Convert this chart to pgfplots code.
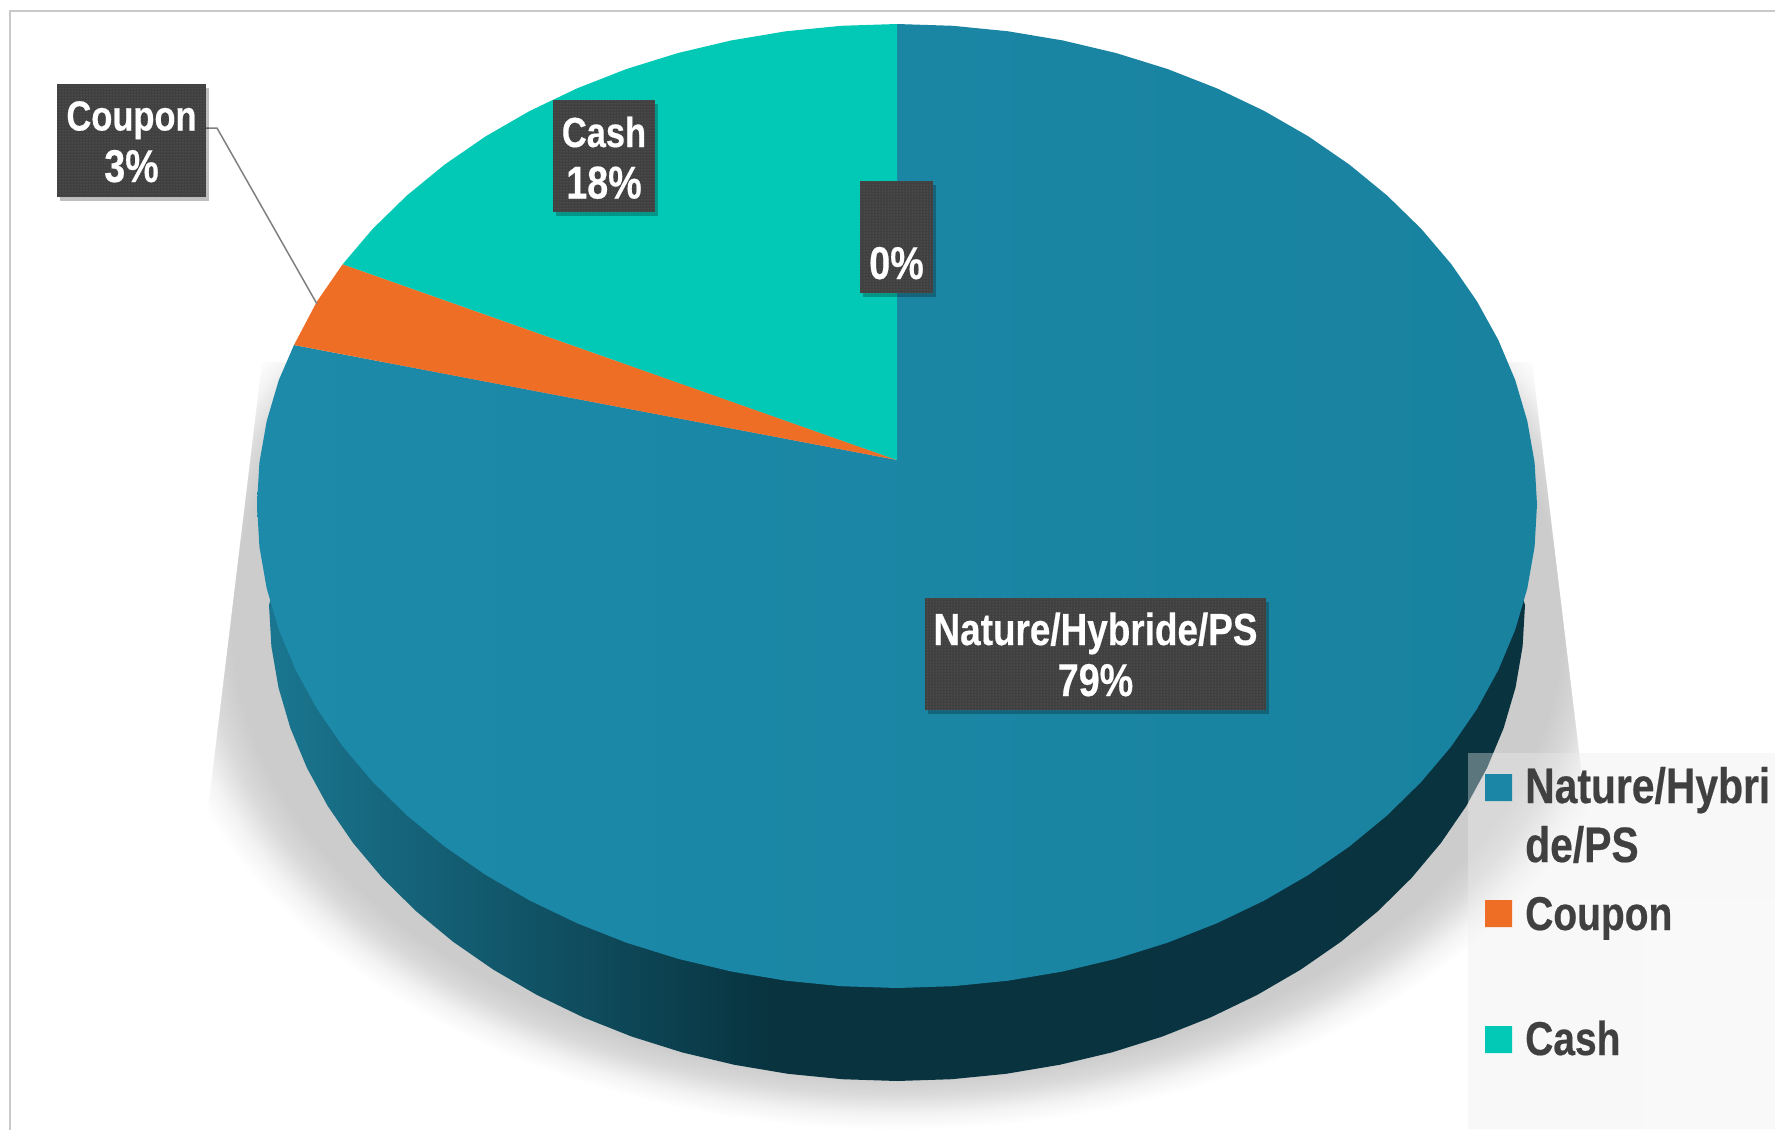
\documentclass[border=0pt]{standalone}
\usepackage{fontspec}
\setmainfont{Liberation Sans}[FakeStretch=0.82,BoldFeatures={FakeBold=0.4}]
\usepackage{pgfplots}
\pgfplotsset{compat=1.18}
\usetikzlibrary{patterns,shadows}
\definecolor{pieblue}{HTML}{1B86A5}
\definecolor{bluel}{HTML}{1D8AAA}
\definecolor{bluer}{HTML}{18829F}
\definecolor{pieorange}{HTML}{EE6E26}
\definecolor{pieteal}{HTML}{02C9B5}
\definecolor{boxgray}{HTML}{404040}
\definecolor{sideA}{HTML}{1A7690}
\definecolor{sideB}{HTML}{08333F}
\definecolor{sideC}{HTML}{0A3340}
\definecolor{shA}{HTML}{CCCCCC}
\definecolor{shB}{HTML}{D9D9D9}
\definecolor{shC}{HTML}{F3F3F3}
\definecolor{framec}{HTML}{C9C9C9}
\definecolor{panelc}{HTML}{EEEEEE}
\pgfdeclarehorizontalshading{sideshade}{100bp}{color(0bp)=(sideA); color(25bp)=(sideA); color(45bp)=(sideB); color(75bp)=(sideC); color(100bp)=(sideC)}
\pgfdeclareradialshading{softshadow}{\pgfpoint{0bp}{0bp}}{color(0bp)=(shA); color(22.3bp)=(shA); color(23.2bp)=(shB); color(24.2bp)=(shC); color(25bp)=(white); color(50bp)=(white)}
\tikzset{
  lab/.style={fill=boxgray,text=white,inner sep=0pt,align=center,
    drop shadow={shadow xshift=3pt,shadow yshift=-4pt,opacity=.25,fill=black},
    postaction={pattern=dots,pattern color=gray!75!boxgray}},
  labtxt/.style={text=white,inner sep=0pt,anchor=base,font=\fontsize{42}{42}\selectfont\bfseries},
  pcttxt/.style={text=white,inner sep=0pt,anchor=base,font=\fontsize{46}{46}\selectfont\bfseries},
  legtxt/.style={text=boxgray,inner sep=0pt,anchor=base west,font=\fontsize{47.5}{48}\selectfont\bfseries},
  legtxtb/.style={text=boxgray,inner sep=0pt,anchor=base west,font=\fontsize{49.8}{50}\selectfont\bfseries},
}
\begin{document}
\begin{tikzpicture}
\begin{axis}[
  scale only axis,width=1775pt,height=1130pt,
  xmin=0,xmax=1775,ymin=0,ymax=1130,y dir=reverse,
  hide axis,no markers,
]
% shadow
\addplot[shading=softshadow,draw=none] coordinates {(152,115) (1642,115) (1642,1130) (152,1130) (152,115)};
% mask that gives the shadow its straight sides
\addplot[fill=white,draw=none] coordinates {(0,0) (1775,0) (1775,900) (1597,900) (1532,362) (262,362) (197,900) (0,900) (0,0)};
% frame
\addplot[color=framec,line width=2pt] coordinates {(9.5,1130) (9.5,10.7) (1775,10.7)};
% side wall
\addplot[shading=sideshade,draw=none] coordinates {
(1525,605) (1522.6,646.5) (1515.5,687.6) (1503.6,728.2) (1487.1,767.8) (1466.2,806.1) (1440.9,843) (1411.5,878) (1378.1,911) (1341.1,941.6) (1300.7,969.6) (1257.2,994.9) (1211,1017.2) (1162.4,1036.5) (1111.8,1052.4) (1059.5,1064.8) (1006,1073.8) (951.7,1079.2) (897,1081)
(842.3,1079.2) (788,1073.8) (734.5,1064.8) (682.2,1052.4) (631.6,1036.5) (583,1017.2) (536.8,994.9) (493.3,969.6) (452.9,941.6) (415.9,911) (382.5,878) (353.1,843) (327.8,806.1) (306.9,767.8) (290.4,728.2) (278.5,687.6) (271.4,646.5) (269,605)
(300,500) (1494,500) (1525,605)};
% Nature/Hybride/PS 79%
\addplot[left color=bluel,right color=bluer,draw=none] coordinates {
(897,460) (897,24) (952.8,25.8) (1008.1,31.3) (1062.6,40.4) (1115.9,53) (1167.5,69) (1217,88.4) (1264.1,110.9) (1308.4,136.4) (1349.5,164.7) (1387.2,195.6) (1421.3,228.9) (1451.3,264.2) (1477,301.4) (1498.4,340.2) (1515.2,380.1) (1527.3,421.1) (1534.6,462.6) (1537,504.5)
(1534.6,546.7) (1527.3,588.4) (1515.2,629.7) (1498.4,669.8) (1477,708.9) (1451.3,746.3) (1421.3,781.8) (1387.2,815.3) (1349.5,846.4) (1308.4,874.9) (1264.1,900.6) (1217,923.2) (1167.5,942.7) (1115.9,958.8) (1062.6,971.5) (1008.1,980.7) (952.8,986.2) (897,988)
(841.2,986.2) (785.9,980.7) (731.4,971.5) (678.1,958.8) (626.5,942.7) (577,923.2) (529.9,900.6) (485.6,874.9) (444.5,846.4) (406.8,815.3) (372.7,781.8) (342.7,746.3) (317,708.9) (295.6,669.8) (278.8,629.7) (266.7,588.4) (259.4,546.7) (257,504.5) (259.4,462.6) (266.7,421.1) (278.8,380.1) (294,345) (897,460)};
% Coupon 3%
\addplot[fill=pieorange,draw=none] coordinates {(897,460) (294,345) (317,301.4) (342.7,264.2) (897,460)};
% Cash 18%
\addplot[fill=pieteal,draw=none] coordinates {(897,460) (342.7,264.2) (372.7,228.9) (406.8,195.6) (444.5,164.7) (485.6,136.4) (529.9,110.9) (577,88.4) (626.5,69) (678.1,53) (731.4,40.4) (785.9,31.3) (841.2,25.8) (897,24) (897,460)};
% leader line
\addplot[color=gray,line width=1.5pt] coordinates {(206,128) (217,128) (317,304)};
% data labels
\node[lab,minimum width=149pt,minimum height=113pt] at (axis cs:131.5,140.5) {};
\node[labtxt] at (axis cs:131.5,130.5) {Coupon};
\node[pcttxt] at (axis cs:131.5,182) {3\%};
\node[lab,minimum width=102pt,minimum height=112pt] at (axis cs:604,156) {};
\node[labtxt] at (axis cs:604,147) {Cash};
\node[pcttxt] at (axis cs:604,198.5) {18\%};
\node[lab,minimum width=73pt,minimum height=112pt] at (axis cs:896.5,237) {};
\node[pcttxt] at (axis cs:896.5,279) {0\%};
\node[lab,minimum width=341pt,minimum height=112pt] at (axis cs:1095.5,654) {};
\node[text=white,inner sep=0pt,anchor=base,font=\fontsize{45}{45}\selectfont\bfseries] at (axis cs:1095.5,645) {Nature/Hybride/PS};
\node[pcttxt] at (axis cs:1095.5,696) {79\%};
% legend
\addplot[fill=panelc,fill opacity=.36,draw=none] coordinates {(1468,753) (1775,753) (1775,1129) (1468,1129) (1468,753)};
\addplot[fill=pieblue,draw=none] coordinates {(1485,774) (1512,774) (1512,801) (1485,801) (1485,774)};
\addplot[fill=pieorange,draw=none] coordinates {(1485,900) (1512,900) (1512,927) (1485,927) (1485,900)};
\addplot[fill=pieteal,draw=none] coordinates {(1485,1026) (1512,1026) (1512,1053) (1485,1053) (1485,1026)};
\node[legtxtb] at (axis cs:1525,803) {Nature/Hybri};
\node[legtxtb] at (axis cs:1525,862) {de/PS};
\node[legtxt] at (axis cs:1525,930) {Coupon};
\node[legtxt] at (axis cs:1525,1055) {Cash};
\end{axis}
\end{tikzpicture}
\end{document}
